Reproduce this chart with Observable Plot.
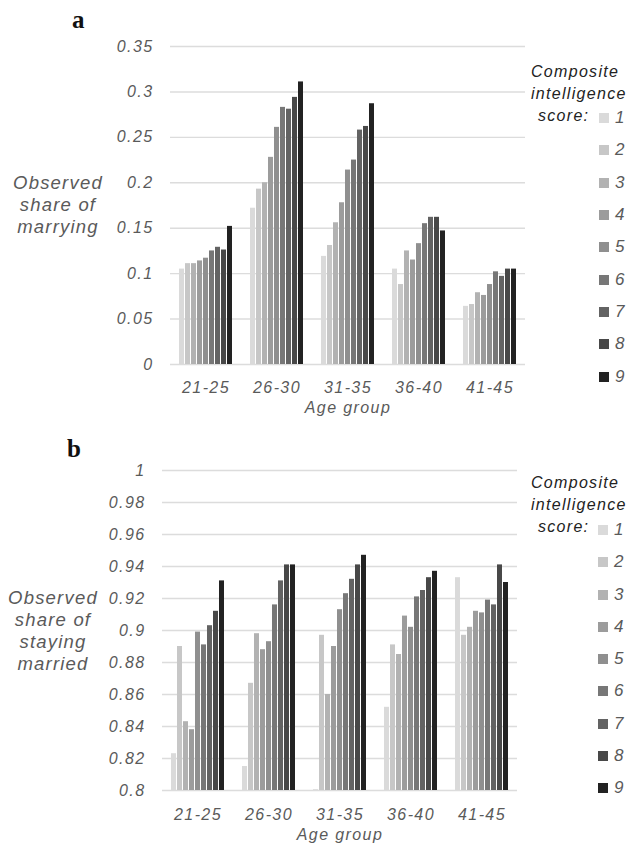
<!DOCTYPE html>
<html>
<head>
<meta charset="utf-8">
<script src="https://cdn.jsdelivr.net/npm/d3@7"></script>
<script src="https://cdn.jsdelivr.net/npm/@observablehq/plot@0.6"></script>
<style>
  html, body { margin: 0; padding: 0; background: #fff; }
  #wrap { position: relative; width: 640px; height: 853px; overflow: hidden; font-family: "Liberation Sans", Arial, sans-serif; }
  .panel { position: absolute; left: 0; }
  .letter { position: absolute; font-family: "Liberation Serif", "Times New Roman", serif; font-weight: bold; font-size: 25px; color: #111; }
  .ytitle { position: absolute; width: 120px; text-align: center; font-style: italic; font-size: 18.5px; line-height: 22px; color: #5a5a5a; letter-spacing: 1.2px; }
  .legtitle { position: absolute; font-style: italic; font-size: 16px; color: #222; letter-spacing: 1.3px; white-space: nowrap; }
  .legitem { position: absolute; display: flex; align-items: center; font-style: italic; font-size: 17px; color: #5a5a5a; }
  .legitem .sw { width: 10px; height: 10px; margin-right: 6px; }
</style>
</head>
<body>
<div id="wrap"></div>
<script>
// ---- data ----
const ageGroups = ["21-25", "26-30", "31-35", "36-40", "41-45"];
const scores = [1, 2, 3, 4, 5, 6, 7, 8, 9];
const greys = ["#dadada", "#c7c7c7", "#b2b2b2", "#9c9c9c", "#8f8f8f", "#777777", "#636363", "#484848", "#222222"];

// panel a: observed share of marrying, one row per age group, one value per score 1..9
const marrying = [
  [0.105, 0.111, 0.111, 0.114, 0.117, 0.125, 0.129, 0.126, 0.152],
  [0.172, 0.193, 0.200, 0.228, 0.261, 0.283, 0.281, 0.294, 0.311],
  [0.119, 0.131, 0.156, 0.178, 0.214, 0.225, 0.258, 0.262, 0.287],
  [0.105, 0.088, 0.125, 0.115, 0.133, 0.155, 0.162, 0.162, 0.147],
  [0.064, 0.066, 0.079, 0.076, 0.088, 0.102, 0.097, 0.105, 0.105]
];
// panel b: observed share of staying married
const stayingMarried = [
  [0.823, 0.890, 0.843, 0.838, 0.899, 0.891, 0.903, 0.912, 0.931],
  [0.815, 0.867, 0.898, 0.888, 0.893, 0.916, 0.931, 0.941, 0.941],
  [0.8005, 0.897, 0.860, 0.890, 0.913, 0.923, 0.932, 0.941, 0.947],
  [0.852, 0.891, 0.885, 0.909, 0.902, 0.921, 0.925, 0.933, 0.937],
  [0.933, 0.897, 0.902, 0.912, 0.911, 0.919, 0.916, 0.941, 0.930]
];
const ticksA = [0, 0.05, 0.1, 0.15, 0.2, 0.25, 0.3, 0.35];
const ticksB = [0.8, 0.82, 0.84, 0.86, 0.88, 0.9, 0.92, 0.94, 0.96, 0.98, 1];
const domainA = [0, 0.35];
const domainB = [0.8, 1];
const titleA = ["Observed", "share of", "marrying"];
const titleB = ["Observed", "share of", "staying", "married"];
const legendTitle = ["Composite", "intelligence", "score:"];
const xTitle = "Age group";

// ---- build ----
const rowsOf = (table) => ageGroups.flatMap((age, i) => scores.map((s, j) => ({age, score: s, value: table[i][j]})));
const fmt = d3.format("~g");
const textStyle = {
  fontFamily: '"Liberation Sans", Arial, sans-serif',
  fontSize: "16px",
  fontStyle: "italic",
  color: "#5a5a5a",
  letterSpacing: "1.4px",
  background: "transparent",
  overflow: "visible"
};

function panel(table, ticks, domain, opts) {
  return Plot.plot({
    width: 640,
    height: opts.height,
    marginLeft: opts.ml,
    marginRight: opts.mr,
    marginTop: opts.mt,
    marginBottom: opts.mb,
    style: textStyle,
    fx: {domain: ageGroups, padding: 0, label: xTitle, labelAnchor: "center", tickSize: 0, tickPadding: opts.fxPad, labelOffset: opts.fxLabelOffset, axis: "bottom"},
    x: {domain: scores, axis: null, paddingInner: 0.2, paddingOuter: 0.85},
    y: {domain, ticks, tickFormat: fmt, tickSize: 0, tickPadding: opts.yPad, label: null},
    color: {domain: scores, range: greys},
    marks: [
      Plot.ruleY(ticks, {stroke: "#dcdcdc", strokeWidth: 1.4}),
      Plot.barY(rowsOf(table), {fx: "age", x: "score", y1: domain[0], y2: "value", fill: "score"})
    ]
  });
}

const wrap = document.getElementById("wrap");
function place(el, top) {
  const d = document.createElement("div");
  d.className = "panel";
  d.style.top = top + "px";
  d.appendChild(el);
  wrap.appendChild(d);
}
place(panel(marrying, ticksA, domainA, {height: 420, ml: 169, mr: 114, mt: 46, mb: 56, yPad: 17, fxPad: 17, fxLabelOffset: 48}), 0);
place(panel(stayingMarried, ticksB, domainB, {height: 433, ml: 160, mr: 122, mt: 50, mb: 63, yPad: 17, fxPad: 18, fxLabelOffset: 49}), 420);

function addDiv(cls, html, left, top) {
  const d = document.createElement("div");
  d.className = cls;
  d.innerHTML = html;
  d.style.left = left + "px";
  d.style.top = top + "px";
  wrap.appendChild(d);
  return d;
}
// panel letters
addDiv("letter", "a", 72, 6);
addDiv("letter", "b", 67, 435);
// y titles
addDiv("ytitle", titleA.join("<br>"), -2, 172);
addDiv("ytitle", titleB.join("<br>"), -7, 587);

// legends
function legend(top0, itemTop, step, swLeft) {
  addDiv("legtitle", legendTitle[0], 531, top0);
  addDiv("legtitle", legendTitle[1], 531, top0 + 22);
  addDiv("legtitle", legendTitle[2], 538, top0 + 44);
  scores.forEach((s, i) => {
    addDiv("legitem", `<span class="sw" style="background:${greys[i]}"></span><span>${s}</span>`, swLeft, itemTop + i * step - 10);
  });
}
legend(63, 118, 32.35, 599);
legend(474, 530, 32.25, 598);
</script>
</body>
</html>
